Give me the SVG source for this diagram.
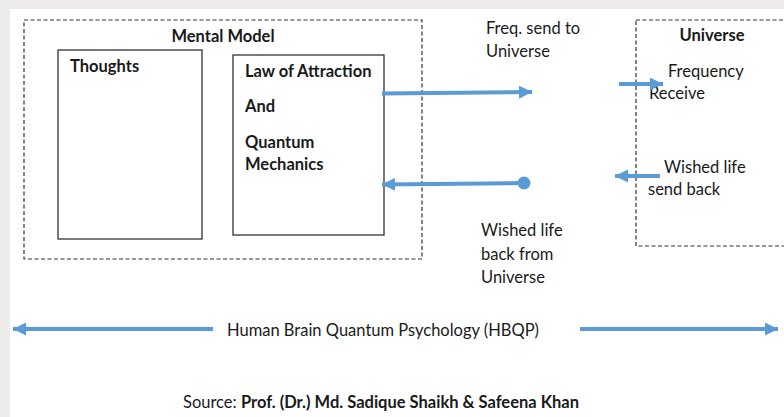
<svg xmlns="http://www.w3.org/2000/svg" width="784" height="417" viewBox="0 0 784 417">
  <defs>
    <style>
      .t { font-family: Lato, "Liberation Sans", sans-serif; font-size: 16.5px; fill: #1a1a1a; }
      .b { font-weight: bold; }
      .dash { fill: none; stroke: #333; stroke-width: 1.2; stroke-dasharray: 4 2.5; }
      .box { fill: #fff; stroke: #333; stroke-width: 1.3; }
      .flow { fill: none; stroke: #5B9BD5; stroke-width: 4; }
    </style>
    <marker id="head" viewBox="0 0 13 13" refX="13" refY="6.5" markerWidth="13" markerHeight="13" markerUnits="userSpaceOnUse" orient="auto">
      <path d="M0,0 L13,6.5 L0,13 Z" fill="#5B9BD5"/>
    </marker>
  </defs>

  <!-- page -->
  <rect width="784" height="417" fill="#EDECEA"/>
  <rect x="10" y="9" width="774" height="408" fill="#fff"/>

  <g id="mental-model">
    <rect class="dash" x="24" y="20" width="398" height="239"/>
    <text class="t b" x="223" y="42" text-anchor="middle">Mental Model</text>
  </g>

  <g id="thoughts">
    <rect class="box" x="58" y="50" width="144" height="189"/>
    <text class="t b" x="70" y="72">Thoughts</text>
  </g>

  <g id="law-of-attraction">
    <rect class="box" x="233" y="55" width="151" height="180"/>
    <text class="t b" x="245" y="77">Law of Attraction</text>
    <text class="t b" x="245" y="112">And</text>
    <text class="t b" x="245" y="148">Quantum</text>
    <text class="t b" x="245" y="170">Mechanics</text>
  </g>

  <g id="universe">
    <rect class="dash" x="636" y="20" width="160" height="226"/>
    <text class="t b" x="712" y="41" text-anchor="middle">Universe</text>
    <text class="t" x="668" y="77">Frequency</text>
    <text class="t" x="649" y="99">Receive</text>
    <text class="t" x="664" y="173">Wished life</text>
    <text class="t" x="648" y="195">send back</text>
  </g>

  <g id="labels">
    <text class="t" x="486" y="34">Freq. send to</text>
    <text class="t" x="486" y="57">Universe</text>
    <text class="t" x="481" y="236">Wished life</text>
    <text class="t" x="481" y="260">back from</text>
    <text class="t" x="481" y="283">Universe</text>
    <text class="t" x="227" y="336">Human Brain Quantum Psychology (HBQP)</text>
    <text class="t" x="183" y="408">Source: <tspan class="b">Prof. (Dr.) Md. Sadique Shaikh &amp; Safeena Khan</tspan></text>
  </g>

  <g id="connectors">
    <line class="flow" x1="382" y1="93.5" x2="532" y2="92" marker-end="url(#head)"/>
    <line class="flow" x1="524" y1="183" x2="382" y2="184.5" marker-end="url(#head)"/>
    <circle cx="524" cy="183" r="6.5" fill="#5B9BD5"/>
    <line class="flow" x1="619" y1="84" x2="663" y2="84" marker-end="url(#head)"/>
    <line class="flow" x1="660" y1="176" x2="615" y2="176" marker-end="url(#head)"/>
    <line class="flow" x1="213" y1="329" x2="13" y2="329" marker-end="url(#head)"/>
    <line class="flow" x1="580" y1="329" x2="778" y2="329" marker-end="url(#head)"/>
  </g>
</svg>
